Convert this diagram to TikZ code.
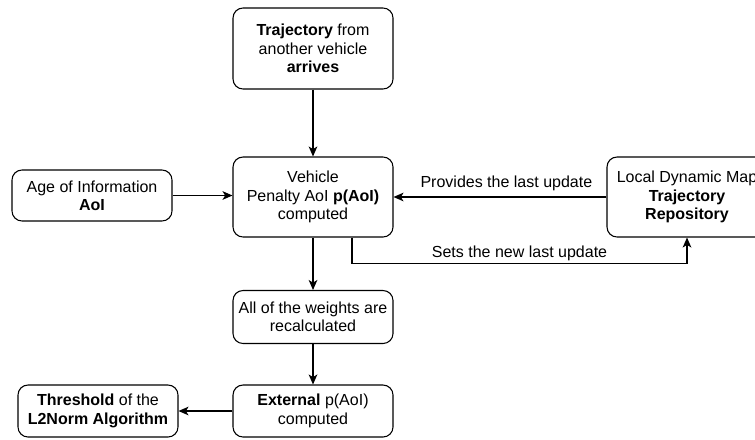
\documentclass[tikz,border=0pt]{standalone}
\usepackage{fontspec}
\setmainfont{Liberation Sans}
\usetikzlibrary{arrows.meta}
\begin{document}
\begin{tikzpicture}[x=0.75pt,y=-0.75pt,
  box/.style={draw, line width=0.8pt, rounded corners=7.5pt, align=center,
    minimum width=120pt, inner sep=2pt, font=\fontsize{12}{13.8}\selectfont},
  arr/.style={line width=0.8pt, -{Stealth[length=7.5pt,width=6.5pt,inset=2pt]}},
  lbl/.style={font=\fontsize{12}{13.8}\selectfont, inner sep=2pt}]
\useasboundingbox (0,0) rectangle (755,439);
\node[box, minimum height=60.75pt] (top) at (313,48.5) {\textbf{Trajectory} from\\another vehicle\\\textbf{arrives}};
\node[box, minimum height=60pt] (veh) at (313,197) {Vehicle\\Penalty AoI \textbf{p(AoI)}\\computed};
\node[box, minimum height=38.25pt] (aoi) at (92,195.5) {Age of Information\\\textbf{AoI}};
\node[box, minimum height=60pt] (ldm) at (687,197) {Local Dynamic Map\\\textbf{Trajectory}\\\textbf{Repository}};
\node[box, minimum height=39.75pt] (w) at (313,317) {All of the weights are\\recalculated};
\node[box, minimum height=39pt] (ext) at (313,411) {\textbf{External} p(AoI)\\computed};
\node[box, minimum height=39pt] (thr) at (98,411) {\textbf{Threshold} of the\\\textbf{L2Norm Algorithm}};
\draw[arr] (top) -- (veh);
\draw[arr] (aoi.east) -- (aoi.east -| veh.west);
\draw[arr] (ldm.west) -- node[lbl, above, pos=0.47, yshift=2pt] {Provides the last update} (veh.east |- ldm.west);
\draw[arr] ([xshift=29.25pt]veh.south) -- ++(0,26) -| node[lbl, above, pos=0.25] {Sets the new last update} (ldm.south);
\draw[arr] (veh) -- (w);
\draw[arr] (w) -- (ext);
\draw[arr] (ext) -- (thr);
\end{tikzpicture}
\end{document}
